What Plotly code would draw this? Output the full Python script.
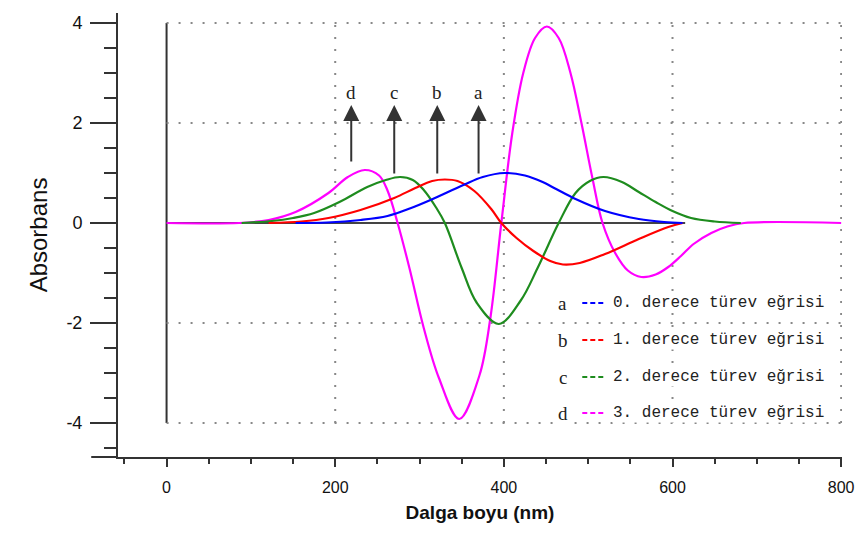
import plotly.graph_objects as go

# ---- data ----
blue_x = [153, 190, 230, 262, 290, 313, 352, 375, 401, 425, 446, 462, 485, 520, 560, 590, 612]
blue_y = [0, 0.01, 0.06, 0.14, 0.3, 0.46, 0.76, 0.92, 1.0, 0.95, 0.82, 0.68, 0.48, 0.24, 0.08, 0.02, 0]

red_x = [121, 160, 192, 230, 270, 295, 315, 330, 345, 365, 385, 397, 415, 435, 455, 470, 490, 520, 560, 595, 612]
red_y = [0, 0.03, 0.1, 0.26, 0.5, 0.7, 0.84, 0.87, 0.84, 0.64, 0.28, 0, -0.3, -0.56, -0.76, -0.83, -0.8, -0.62, -0.32, -0.08, 0]

green_x = [89, 125, 150, 175, 205, 238, 260, 277, 292, 305, 320, 330, 350, 368, 394, 420, 440, 465, 485, 502, 518, 540, 560, 580, 600, 622, 650, 681]
green_y = [0, 0.04, 0.1, 0.2, 0.42, 0.72, 0.86, 0.92, 0.86, 0.66, 0.3, 0, -0.9, -1.6, -2.02, -1.55, -0.9, 0, 0.6, 0.84, 0.92, 0.82, 0.62, 0.42, 0.24, 0.1, 0.03, 0]

mag_x = [0, 86, 121, 153, 192, 215, 235, 252, 262, 274, 288, 305, 323, 347, 371, 384, 397, 410, 423, 437, 451, 465, 479, 492, 505, 517, 532, 547, 563, 580, 595, 610, 625, 646, 665, 685, 800]
mag_y = [0, 0, 0.06, 0.22, 0.6, 0.92, 1.06, 0.95, 0.65, 0, -0.9, -2.1, -3.1, -3.92, -3.05, -1.9, 0, 1.8, 3.0, 3.7, 3.93, 3.7, 3.0, 2.0, 0.9, 0, -0.6, -0.95, -1.08, -1.03, -0.88, -0.66, -0.42, -0.2, -0.07, 0, 0]

arrow_x = [219, 270, 321, 370]
arrow_tail = [1.2, 0.96, 0.96, 0.96]
arrow_labels = ["d", "c", "b", "a"]

legend_letters = ["a", "b", "c", "d"]
legend_texts = ["0. derece türev eğrisi", "1. derece türev eğrisi",
                "2. derece türev eğrisi", "3. derece türev eğrisi"]
colors = ["#0000ff", "#ff0000", "#1e8c1e", "#ff00ff"]

x_ticks = [0, 200, 400, 600, 800]
x_tick_labels = ["0", "200", "400", "600", "800"]
y_ticks = [-4, -2, 0, 2, 4]
y_tick_labels = ["-4", "-2", "0", "2", "4"]

fig = go.Figure()

# baseline and vertical line at x=0
fig.add_shape(type="line", x0=0, x1=615, y0=0, y1=0, line=dict(color="#444", width=2), layer="below")
fig.add_shape(type="line", x0=0, x1=0, y0=-4, y1=4, line=dict(color="#333", width=2), layer="below")

# dotted grid box
for yv in [4, 2, -2, -4]:
    fig.add_shape(type="line", x0=0, x1=800, y0=yv, y1=yv,
                  line=dict(color="#888", width=2, dash="2px,10px"), layer="below")
for xv in [200, 400, 600, 800]:
    fig.add_shape(type="line", x0=xv, x1=xv, y0=-4, y1=4,
                  line=dict(color="#888", width=2, dash="2px,10px"), layer="below")

series = [(mag_x, mag_y, colors[3]), (green_x, green_y, colors[2]),
          (red_x, red_y, colors[1]), (blue_x, blue_y, colors[0])]
for xs, ys, c in series:
    fig.add_trace(go.Scatter(x=xs, y=ys, mode="lines",
                             line=dict(color=c, width=2.2, shape="spline", smoothing=1.0),
                             showlegend=False, hoverinfo="skip", cliponaxis=False))

# arrows and labels
for xv, t, lab in zip(arrow_x, arrow_tail, arrow_labels):
    fig.add_annotation(x=xv, y=2.36, ax=xv, ay=t, xref="x", yref="y", axref="x", ayref="y",
                       showarrow=True, arrowhead=2, arrowsize=1.6, arrowwidth=2, arrowcolor="#333", text="")
    fig.add_annotation(x=xv, y=2.62, xref="x", yref="y", text=lab, showarrow=False,
                       font=dict(family="Liberation Serif", size=19, color="#222"))

# custom legend
leg_y = [-1.6, -2.34, -3.08, -3.8]
for lt, tx, c, yv in zip(legend_letters, legend_texts, colors, leg_y):
    fig.add_annotation(x=470, y=yv, xref="x", yref="y", text=lt, showarrow=False,
                       font=dict(family="Liberation Serif", size=19, color="#222"), bgcolor="white")
    fig.add_shape(type="line", x0=493, x1=520, y0=yv, y1=yv, line=dict(color=c, width=2, dash="5px,3px"))
    fig.add_annotation(x=528, y=yv, xref="x", yref="y", text=tx, showarrow=False, xanchor="left",
                       font=dict(family="Liberation Mono", size=16, color="#222"), bgcolor="white",
                       borderpad=0)

# x-axis extension to the left
fig.add_shape(type="line", xref="paper", yref="paper", x0=-0.037, x1=0, y0=0, y1=0,
              line=dict(color="#333", width=2))

fig.update_layout(
    width=857, height=541,
    margin=dict(l=118, r=15, t=13, b=84),
    paper_bgcolor="white", plot_bgcolor="white",
    font=dict(family="Liberation Sans", color="#111"),
    xaxis=dict(range=[-57.6, 801], showgrid=False, zeroline=False, showline=True, linecolor="#333",
               linewidth=2, ticks="outside", tickvals=x_ticks, ticktext=x_tick_labels,
               ticklen=8, tickwidth=2, tickcolor="#333",
               minor=dict(dtick=50, tick0=0, ticks="outside", ticklen=5, tickwidth=2, tickcolor="#333"),
               tickfont=dict(size=16, family="Liberation Sans Narrow, Liberation Sans"),
               ticklabelstandoff=7, automargin=False, ticklabeloverflow="allow",
               title=dict(text="<b>Dalga boyu (nm)</b>", font=dict(size=19), standoff=10)),
    yaxis=dict(range=[-4.68, 4.2], showgrid=False, zeroline=False, showline=True, linecolor="#333",
               linewidth=2, ticks="outside", tickvals=y_ticks, ticktext=y_tick_labels,
               ticklen=26, tickwidth=2, tickcolor="#333",
               minor=dict(dtick=0.5, tick0=0, ticks="outside", ticklen=12, tickwidth=2, tickcolor="#333"),
               tickfont=dict(size=18, family="Liberation Sans Narrow, Liberation Sans"),
               ticklabelstandoff=4, automargin=False, ticklabeloverflow="allow",
               title=dict(text="Absorbans", font=dict(size=24), standoff=12)),
)

fig.write_html("out.html", post_script="document.body.style.margin='0';",
               config={"displayModeBar": False})
